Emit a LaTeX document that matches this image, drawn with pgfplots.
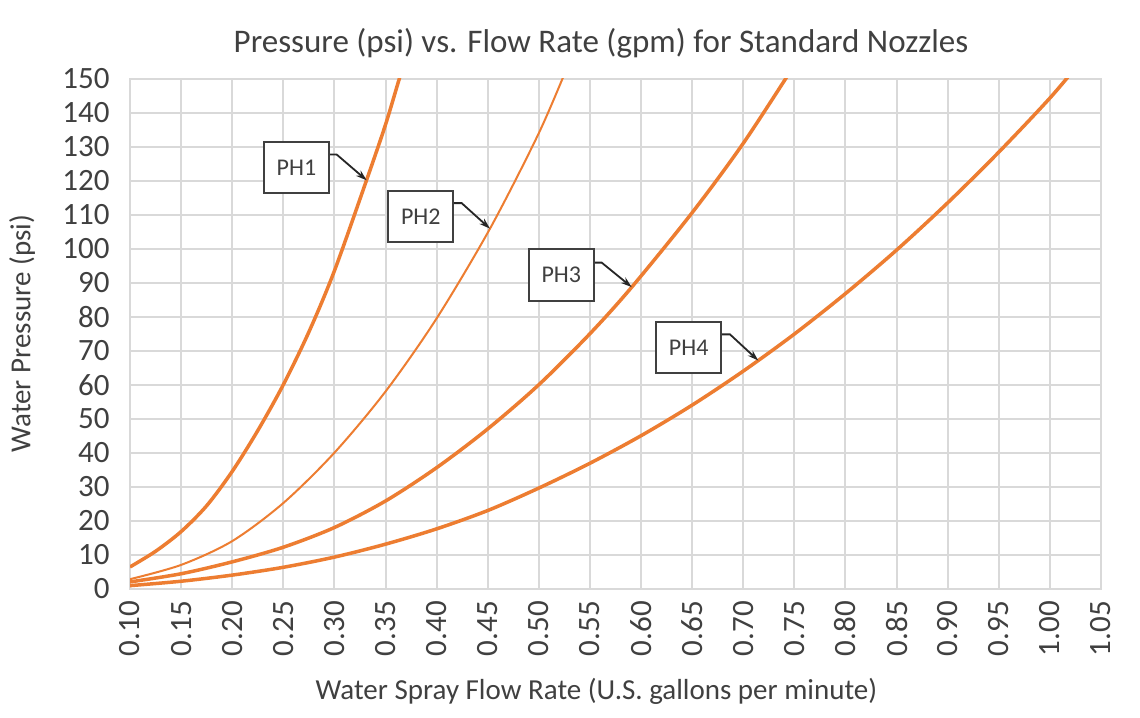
\documentclass[border=0pt]{standalone}
\usepackage{fontspec}
\setmainfont{Carlito}
\usepackage{pgfplots}
\pgfplotsset{compat=1.18}
\usetikzlibrary{arrows.meta}
\definecolor{orng}{HTML}{ED7D31}
\definecolor{gridc}{HTML}{D9D9D9}
\definecolor{txt}{HTML}{404040}
\begin{document}
\begin{tikzpicture}[x=1bp,y=1bp]
\path[use as bounding box, fill=white] (0,0) rectangle (570,358.5);
\node[anchor=base, text=txt, font=\fontsize{16.5bp}{20bp}\selectfont] at (300.5,332.5) {Pressure (psi) vs. Flow Rate (gpm) for Standard Nozzles};
\begin{axis}[at={(65bp,64.15bp)}, anchor=south west, scale only axis,
  width=485.5bp, height=255bp,
  xmin=0.10, xmax=1.05, ymin=0, ymax=150,
  xtick={0.10,0.15,0.20,0.25,0.30,0.35,0.40,0.45,0.50,0.55,0.60,0.65,0.70,0.75,0.80,0.85,0.90,0.95,1.00,1.05},
  xticklabels={0.10,0.15,0.20,0.25,0.30,0.35,0.40,0.45,0.50,0.55,0.60,0.65,0.70,0.75,0.80,0.85,0.90,0.95,1.00,1.05},
  ytick={0,10,20,30,40,50,60,70,80,90,100,110,120,130,140,150},
  grid=major, grid style={gridc, line width=1bp},
  axis line style={gridc, line width=1bp},
  major tick length=0pt,
  tick label style={font=\fontsize{15.5bp}{18bp}\selectfont, text=txt},
  /pgf/number format/assume math mode=true,
  xticklabel style={rotate=90, anchor=east, inner sep=0pt},
  yticklabel style={anchor=east, inner sep=0pt},
  xticklabel shift=6bp, yticklabel shift=10bp,
  xlabel={Water Spray Flow Rate (U.S. gallons per minute)},
  ylabel={Water Pressure (psi)},
  label style={font=\fontsize{14.5bp}{17bp}\selectfont, text=txt},
  xlabel style={at={(axis description cs:0.4804,-0.202)}, anchor=center},
  ylabel style={at={(axis description cs:-0.1112,0.5)}, anchor=center},
]
% PH1
\addplot[orng, line width=1.75bp, smooth] coordinates {
(0.10,6.4) (0.125,11.0) (0.15,16.8) (0.175,24.4) (0.20,34.5) (0.225,46.5) (0.25,60.0) (0.275,75.5) (0.30,93.5) (0.3316,120.3) (0.35,136.5) (0.3635,150) (0.37,156)};
% PH2
\addplot[orng, line width=1bp, smooth] coordinates {
(0.10,2.8) (0.15,7.0) (0.20,14.0) (0.25,25.2) (0.30,40.0) (0.35,58.0) (0.40,79.5) (0.4522,105.9) (0.50,134) (0.53,155)};
% PH3
\addplot[orng, line width=1.75bp, smooth] coordinates {
(0.10,2.0) (0.15,4.4) (0.20,7.9) (0.25,12.2) (0.30,18.0) (0.35,25.8) (0.40,35.6) (0.45,47.0) (0.50,60.0) (0.55,75.0) (0.5909,88.7) (0.65,110.6) (0.70,131.0) (0.75,154)};
% PH4
\addplot[orng, line width=1.75bp, smooth] coordinates {
(0.10,0.9) (0.15,2.2) (0.20,4.0) (0.25,6.3) (0.30,9.3) (0.35,13.1) (0.40,17.6) (0.45,23.0) (0.50,29.6) (0.55,36.9) (0.60,45.0) (0.65,54.0) (0.70,64.0) (0.75,74.9) (0.80,86.8) (0.85,99.6) (0.90,113.5) (0.95,128.4) (1.00,144.3) (1.03,155)};
% callouts
\tikzset{phbox/.style={draw=txt, line width=1bp, fill=white, minimum width=32.3bp, minimum height=25.8bp, inner sep=0pt, font=\fontsize{12bp}{14bp}\selectfont, text=txt},
  pharr/.style={line width=0.9bp, color=black!85, -{Stealth[length=5.5bp,width=3.5bp]}}}
\draw[pharr] (axis cs:0.2940,127.7) -- (axis cs:0.3022,127.7) -- (axis cs:0.3316,120.1);
\node[phbox] at (axis cs:0.2628,123.9) {PH1};
\draw[pharr] (axis cs:0.4163,113.4) -- (axis cs:0.4245,113.4) -- (axis cs:0.4522,105.9);
\node[phbox] at (axis cs:0.3845,109.5) {PH2};
\draw[pharr] (axis cs:0.5533,95.9) -- (axis cs:0.5615,95.9) -- (axis cs:0.5909,88.7);
\node[phbox] at (axis cs:0.5220,92.35) {PH3};
\draw[pharr] (axis cs:0.6779,74.8) -- (axis cs:0.6870,74.8) -- (axis cs:0.7147,67.1);
\node[phbox] at (axis cs:0.6466,71.0) {PH4};
\end{axis}
\end{tikzpicture}
\end{document}
